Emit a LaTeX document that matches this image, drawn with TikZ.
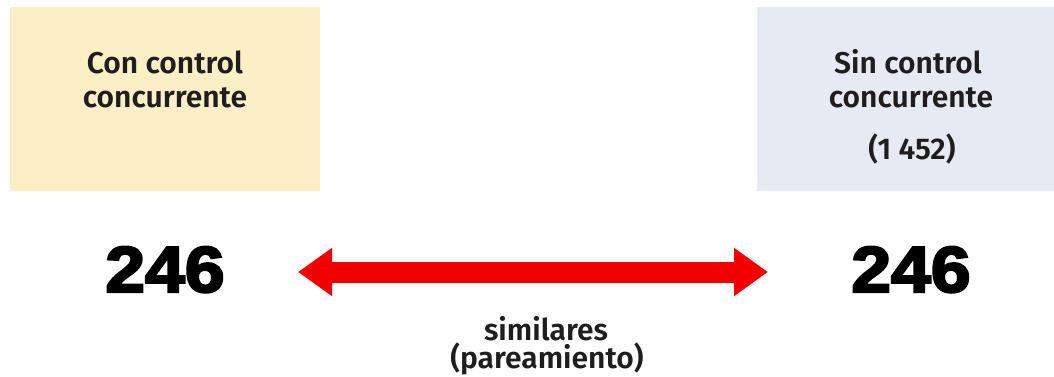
\documentclass[tikz,border=0pt]{standalone}
\usepackage{fontspec}
\setmainfont{Fira Sans}
\newfontfamily\semifont{Fira Sans SemiBold}
\newfontfamily\numfont{Liberation Sans}
\usetikzlibrary{arrows.meta}
\definecolor{boxyellow}{HTML}{FCEFC6}
\definecolor{boxblue}{HTML}{E6EBF3}
\definecolor{arrowred}{HTML}{F20000}
\definecolor{txt}{HTML}{1E1E1E}
\newcommand{\heavytext}[1]{\special{pdf:code q 2 Tr 2.2 w 0 0 0 RG}#1\special{pdf:code Q}}
\begin{document}
\begin{tikzpicture}[x=1pt,y=-1pt,
  boxtxt/.style={anchor=base,inner sep=0pt,text=txt,font=\semifont\fontsize{30}{34}\selectfont},
  bignum/.style={anchor=base,inner sep=0pt,font=\numfont\bfseries\fontsize{65}{70}\selectfont,xscale=1.1},
  lbl/.style={anchor=base,inner sep=0pt,text=txt,font=\semifont\fontsize{30}{34}\selectfont},
  pairarrow/.style={line width=21pt,arrowred,{Triangle[length=34pt,width=46pt]}-{Triangle[length=34pt,width=46pt]}}]
\useasboundingbox (0,0) rectangle (1054,377);
\fill[white] (0,0) rectangle (1054,377);
\fill[boxyellow] (10,7) rectangle (320,191);
\fill[boxblue] (757,7) rectangle (1054,191);
\node[boxtxt] (l1) at (165,74) {Con control};
\node[boxtxt] (l2) at (165,108) {concurrente};
\node[boxtxt] (r1) at (908,74) {Sin control};
\node[boxtxt] (r2) at (911,108) {concurrente};
\node[boxtxt] (r3) at (912,159) {(1 452)};
\node[bignum] (nl) at (165,292) {\heavytext{246}};
\node[bignum] (nr) at (911,292) {\heavytext{246}};
\coordinate (al) at (298,272);
\coordinate (ar) at (768,272);
\draw[pairarrow] (al) -- (ar);
\node[lbl] (s1) at (546,340) {similares};
\node[lbl] (s2) at (547,368) {(pareamiento)};
\end{tikzpicture}
\end{document}
